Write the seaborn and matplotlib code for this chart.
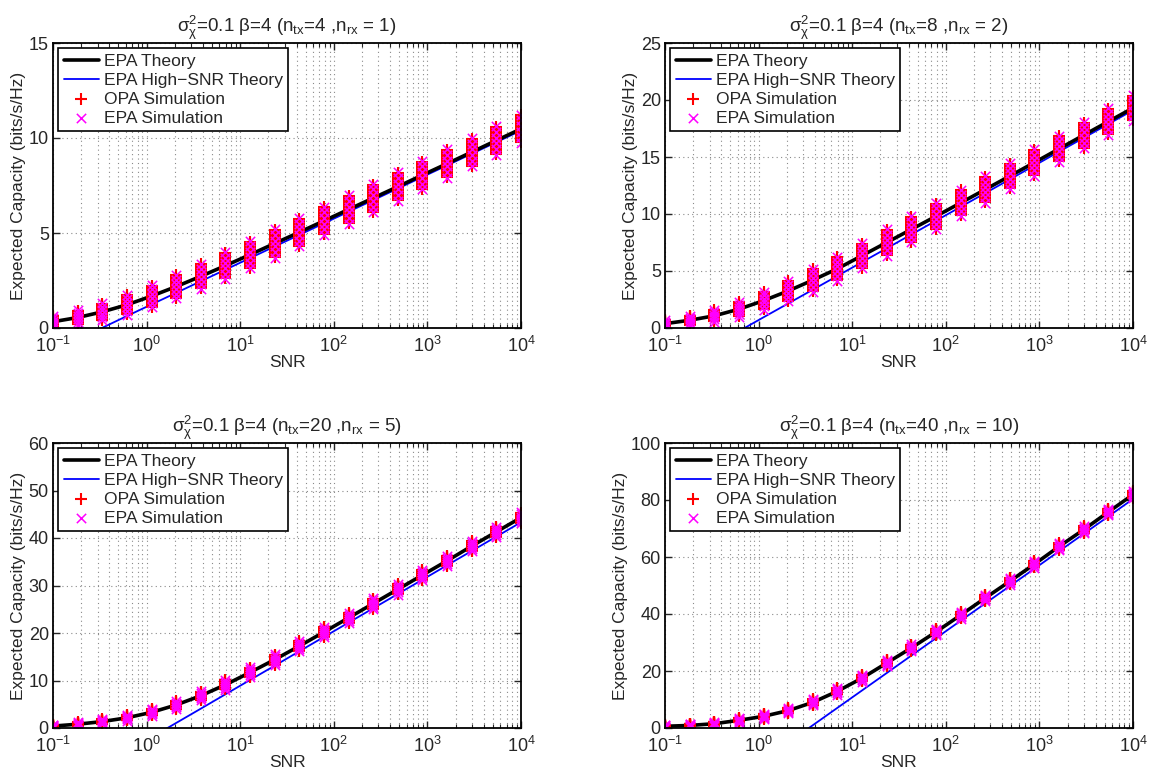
import matplotlib
matplotlib.use("Agg")
import matplotlib.pyplot as plt
import numpy as np
import pandas as pd
import seaborn as sns

# SNR grid (20 points, log-spaced from 0.1 to 1e4)
snr = [0.1, 0.1833, 0.3360, 0.6158, 1.129, 2.069, 3.793, 6.952, 12.74, 23.36,
       42.81, 78.48, 143.8, 263.7, 483.3, 885.9, 1624.0, 2976.4, 5455.6, 10000.0]

panel_titles = [
    r"$\mathregular{\sigma^2_\chi}$=0.1 β=4 (n$_{\mathregular{tx}}$=4 ,n$_{\mathregular{rx}}$ = 1)",
    r"$\mathregular{\sigma^2_\chi}$=0.1 β=4 (n$_{\mathregular{tx}}$=8 ,n$_{\mathregular{rx}}$ = 2)",
    r"$\mathregular{\sigma^2_\chi}$=0.1 β=4 (n$_{\mathregular{tx}}$=20 ,n$_{\mathregular{rx}}$ = 5)",
    r"$\mathregular{\sigma^2_\chi}$=0.1 β=4 (n$_{\mathregular{tx}}$=40 ,n$_{\mathregular{rx}}$ = 10)",
]

# EPA theory (expected capacity, bits/s/Hz)
epa_theory_1 = [0.33, 0.55, 0.85, 1.22, 1.68, 2.18, 2.72, 3.28, 3.86, 4.45,
                5.04, 5.64, 6.24, 6.84, 7.44, 8.05, 8.65, 9.26, 9.87, 10.48]
epa_theory_2 = [0.38, 0.68, 1.07, 1.65, 2.40, 3.25, 4.20, 5.20, 6.35, 7.50,
                8.65, 9.80, 10.97, 12.15, 13.33, 14.52, 15.72, 16.92, 18.11, 19.30]
epa_theory_3 = [0.40, 0.80, 1.35, 2.15, 3.30, 4.85, 6.80, 9.10, 11.70, 14.40,
                17.25, 20.20, 23.20, 26.20, 29.20, 32.20, 35.20, 38.30, 41.30, 44.30]
epa_theory_4 = [0.60, 0.90, 1.50, 2.70, 4.10, 6.10, 9.00, 12.90, 17.50, 22.80,
                28.10, 33.70, 39.60, 45.60, 51.50, 57.50, 63.70, 69.60, 75.80, 81.90]

# EPA high-SNR approximation
epa_high_1 = [-1.21, -0.60, 0.01, 0.63, 1.24, 1.85, 2.46, 3.07, 3.68, 4.29,
              4.90, 5.51, 6.12, 6.73, 7.34, 7.95, 8.56, 9.17, 9.78, 10.39]
epa_high_2 = [-3.91, -2.70, -1.49, -0.28, 0.94, 2.15, 3.36, 4.57, 5.78, 6.99,
              8.20, 9.41, 10.62, 11.83, 13.04, 14.25, 15.47, 16.68, 17.89, 19.10]
epa_high_3 = [-14.04, -11.02, -8.01, -4.99, -1.96, 1.06, 4.07, 7.09, 10.11, 13.12,
              16.15, 19.17, 22.18, 25.20, 28.22, 31.23, 34.26, 37.28, 40.29, 43.31]
epa_high_4 = [-35.7, -29.6, -23.5, -17.4, -11.2, -5.13, 0.97, 7.08, 13.18, 19.28,
              25.40, 31.51, 37.61, 43.71, 49.81, 55.91, 62.04, 68.14, 74.24, 80.34]

# Half-width of the spread of simulated capacities at each SNR
sim_spread_1 = [0.30, 0.38, 0.45, 0.52, 0.58, 0.62, 0.66, 0.70, 0.72, 0.74,
                0.75, 0.75, 0.75, 0.75, 0.75, 0.75, 0.75, 0.75, 0.75, 0.75]
sim_spread_2 = [0.30, 0.40, 0.50, 0.65, 0.80, 0.90, 1.00, 1.05, 1.10, 1.15,
                1.15, 1.15, 1.15, 1.15, 1.15, 1.15, 1.15, 1.15, 1.15, 1.15]
sim_spread_3 = [0.30, 0.40, 0.50, 0.60, 0.70, 0.80, 0.90, 1.00, 1.05, 1.10,
                1.10, 1.10, 1.10, 1.10, 1.10, 1.10, 1.10, 1.10, 1.10, 1.10]
sim_spread_4 = [0.50, 0.60, 0.70, 0.80, 0.90, 1.00, 1.10, 1.15, 1.20, 1.20,
                1.20, 1.20, 1.20, 1.20, 1.20, 1.20, 1.20, 1.20, 1.20, 1.20]

# Relative positions of the individual channel realisations within a spread
opa_offsets = [-0.95, -0.85, -0.75, -0.65, -0.55, -0.45, -0.35, -0.25, -0.15, -0.05,
               0.05, 0.15, 0.25, 0.35, 0.45, 0.55, 0.65, 0.75, 0.85, 0.95]
epa_offsets = [-1.0, -0.6, -0.2, 0.2, 0.6, 1.0]

y_limits = [15, 25, 60, 100]
y_steps = [5, 5, 10, 20]

theory = [epa_theory_1, epa_theory_2, epa_theory_3, epa_theory_4]
high = [epa_high_1, epa_high_2, epa_high_3, epa_high_4]
spreads = [sim_spread_1, sim_spread_2, sim_spread_3, sim_spread_4]

sns.set_style("ticks")
plt.rcParams["font.family"] = ["Liberation Sans", "DejaVu Sans"]
plt.rcParams["mathtext.fontset"] = "custom"
plt.rcParams["mathtext.rm"] = "Liberation Sans"
plt.rcParams["mathtext.it"] = "Liberation Sans:italic"
plt.rcParams["mathtext.default"] = "regular"
plt.rcParams["axes.unicode_minus"] = True

W, H = 1151, 778
fig = plt.figure(figsize=(W / 100, H / 100), dpi=100)

boxes = [(53, 43), (665, 43), (53, 443), (665, 443)]
ax_w, ax_h = 468, 285
grid_style = dict(linestyle=(0, (1, 3)), color="#8a8a8a", linewidth=0.8)


def sim_frame(center, spread, offsets):
    rows = []
    for x, c, s in zip(snr, center, spread):
        for o in offsets:
            rows.append((x, c + s * o))
    return pd.DataFrame(rows, columns=["SNR", "capacity"])


for i in range(4):
    left, top = boxes[i]
    ax = fig.add_axes([left / W, 1 - (top + ax_h) / H, ax_w / W, ax_h / H])
    df_line = pd.DataFrame({"SNR": snr, "theory": theory[i], "high": high[i]})

    sns.lineplot(data=df_line, x="SNR", y="theory", ax=ax, color="black",
                 linewidth=2.6, label="EPA Theory", zorder=3)
    sns.lineplot(data=df_line, x="SNR", y="high", ax=ax, color="#0000FF",
                 linewidth=1.3, label="EPA High\u2212SNR Theory", zorder=2)
    sns.scatterplot(data=sim_frame(theory[i], spreads[i], opa_offsets), x="SNR",
                    y="capacity", ax=ax, marker="+", color="#FF0000", s=75,
                    linewidth=1.5, label="OPA Simulation", zorder=4)
    sns.scatterplot(data=sim_frame(theory[i], spreads[i], epa_offsets), x="SNR",
                    y="capacity", ax=ax, marker="x", color="#FF00FF", s=45,
                    linewidth=1.1, label="EPA Simulation", zorder=5)

    ax.set_xscale("log")
    ax.set_xlim(0.1, 1e4)
    ax.set_ylim(0, y_limits[i])
    ax.set_yticks(np.arange(0, y_limits[i] + 1, y_steps[i]))
    ax.set_xlabel("SNR", fontsize=12.5, labelpad=-1)
    ax.set_ylabel("Expected Capacity (bits/s/Hz)", fontsize=12.5, labelpad=2)
    ax.set_title(panel_titles[i], fontsize=13.5, pad=8)

    ax.grid(True, which="major", axis="both", **grid_style)
    ax.grid(True, which="minor", axis="x", **grid_style)
    ax.tick_params(which="both", direction="in", top=True, right=True, labelsize=13)
    ax.tick_params(which="major", length=5, width=1)
    ax.tick_params(which="minor", length=3, width=0.8)
    ax.tick_params(axis="x", which="major", pad=6)
    ax.tick_params(axis="y", which="major", pad=3)
    for sp in ax.spines.values():
        sp.set_linewidth(1.3)
        sp.set_color("black")
        sp.set_zorder(6)

    handles, labels = ax.get_legend_handles_labels()
    leg = ax.legend(handles, labels, loc="upper left", fontsize=12.6, frameon=True,
                    fancybox=False, edgecolor="black", framealpha=1,
                    labelspacing=0.22, handlelength=2.0, handletextpad=0.3,
                    borderpad=0.3, borderaxespad=0.3)
    leg.get_frame().set_linewidth(1.2)

fig.savefig("out.png", dpi=100)
